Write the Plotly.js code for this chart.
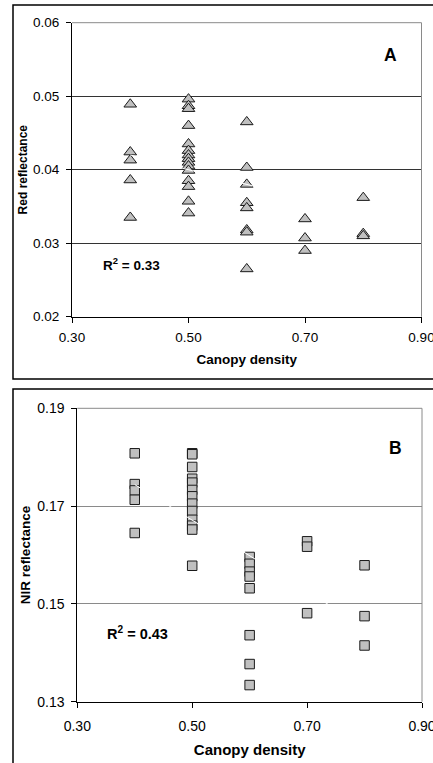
<!DOCTYPE html>
<html>
<head>
<meta charset="utf-8">
<script src="https://cdn.plot.ly/plotly-3.0.1.min.js"></script>
<style>html,body{margin:0;padding:0;background:#fff;}#chart{width:433px;height:763px;}</style>
</head>
<body>
<div id="chart"></div>
<script>
// ---- data ----
const redX = [0.4,0.4,0.4,0.4,0.4,
  0.5,0.5,0.5,0.5,0.5,0.5,0.5,0.5,0.5,0.5,0.5,0.5,0.5,0.5,0.5,
  0.6,0.6,0.6,0.6,0.6,0.6,0.6,0.6,
  0.7,0.7,0.7,
  0.8,0.8,0.8];
const redY = [0.0489,0.0424,0.0413,0.0386,0.0335,
  0.0496,0.0487,0.0483,0.0460,0.0435,0.0426,0.0420,0.0415,0.0410,0.0405,0.0399,0.0385,0.0377,0.0357,0.0341,
  0.0465,0.0403,0.0380,0.0355,0.0348,0.0318,0.0315,0.0265,
  0.0333,0.0307,0.0290,
  0.0362,0.0313,0.0310];
const nirX = [0.4,0.4,0.4,0.4,0.4,
  0.5,0.5,0.5,0.5,0.5,0.5,0.5,0.5,0.5,0.5,0.5,0.5,0.5,
  0.6,0.6,0.6,0.6,0.6,0.6,0.6,0.6,
  0.7,0.7,0.7,
  0.8,0.8,0.8];
const nirY = [0.1808,0.1745,0.1732,0.1713,0.1645,
  0.1808,0.1806,0.1780,0.1756,0.1748,0.1733,0.1720,0.1705,0.1690,0.1672,0.1660,0.1652,0.1578,
  0.1596,0.1582,0.1566,0.1556,0.1532,0.1436,0.1377,0.1334,
  0.1628,0.1617,0.1481,
  0.1579,0.1475,0.1415];
const trendX = [0.4, 0.8];
const trendRed = [0.0420, 0.0340];
const trendNIR = [0.1744, 0.1453];
const xTicks = [0.30, 0.50, 0.70, 0.90];
const xTickText = ['0.30','0.50','0.70','0.90'];
const redTicks = [0.02, 0.03, 0.04, 0.05, 0.06];
const redTickText = ['0.02','0.03','0.04','0.05','0.06'];
const nirTicks = [0.13, 0.15, 0.17, 0.19];
const nirTickText = ['0.13','0.15','0.17','0.19'];
const panelLabels = ['A', 'B'];
const rSquared = ['0.33', '0.43'];
const xTitle = 'Canopy density';
const yTitles = ['Red reflectance', 'NIR reflectance'];

// ---- layout helpers ----
const W = 433, H = 763;
const px = v => v / W;
const py = v => 1 - v / H;
const FONT = 'Liberation Sans, Arial, sans-serif';

const markerTri = {symbol:'triangle-up', size:11, color:'#c0c0c0', line:{color:'#1a1a1a', width:1}};
const markerSq = {symbol:'square', size:9.5, color:'#c0c0c0', line:{color:'#1a1a1a', width:1}};

const traces = [
  {x: redX, y: redY, type:'scatter', mode:'markers', marker: markerTri, xaxis:'x', yaxis:'y', cliponaxis:false},
  {x: trendX, y: trendRed, type:'scatter', mode:'lines', line:{color:'#ffffff', width:1}, xaxis:'x', yaxis:'y'},
  {x: nirX, y: nirY, type:'scatter', mode:'markers', marker: markerSq, xaxis:'x2', yaxis:'y2', cliponaxis:false},
  {x: trendX, y: trendNIR, type:'scatter', mode:'lines', line:{color:'#ffffff', width:1}, xaxis:'x2', yaxis:'y2'}
];

function xAxis(domain, anchor, fs, tfs, lblStandoff, standoff) {
  return {
    domain: domain, anchor: anchor, range:[0.3, 0.9],
    tickmode:'array', tickvals: xTicks, ticktext: xTickText,
    ticks:'outside', ticklen:5, tickwidth:1, tickcolor:'#000',
    showline:true, linecolor:'#000', linewidth:1,
    showgrid:false, zeroline:false, fixedrange:true,
    tickfont:{family:FONT, size:fs, color:'#000'},
    ticklabelstandoff: lblStandoff,
    ticklabeloverflow: 'allow',
    title:{text:xTitle, font:{family:FONT, size:tfs, color:'#000', weight:'bold'}, standoff:standoff}
  };
}
function yAxis(domain, anchor, range, tv, tt, grid, fs, title, tfs, standoff) {
  return {
    domain: domain, anchor: anchor, range: range,
    tickmode:'array', tickvals: tv, ticktext: tt,
    ticks:'outside', ticklen:5, tickwidth:1, tickcolor:'#000',
    showline:true, linecolor:'#000', linewidth:1,
    showgrid:true, gridcolor: grid, gridwidth:1, zeroline:false, fixedrange:true,
    tickfont:{family:FONT, size:fs, color:'#000'},
    ticklabelstandoff: 4,
    ticklabeloverflow: 'allow',
    title:{text:title, font:{family:FONT, size:tfs, color:'#000', weight:'bold'}, standoff:standoff}
  };
}

const layout = {
  width: W, height: H,
  margin:{l:0, r:0, t:0, b:0, pad:0},
  paper_bgcolor:'#fff', plot_bgcolor:'#fff',
  showlegend:false,
  font:{family:FONT, color:'#000'},
  xaxis: xAxis([px(72), px(421.5)], 'y', 13.5, 13.5, 3, 10),
  yaxis: yAxis([py(316.7), py(22.7)], 'x', [0.02, 0.06], redTicks, redTickText, '#333333', 13.5, yTitles[0], 12, 2),
  xaxis2: xAxis([px(77.3), px(422)], 'y2', 14, 15, 6, 11),
  yaxis2: yAxis([py(701.7), py(408.3)], 'x2', [0.13, 0.19], nirTicks, nirTickText, '#8a8a8a', 14, yTitles[1], 13.5, 3),
  shapes: [
    // outer frames
    {type:'rect', xref:'paper', yref:'paper', x0:px(13), x1:1.05, y0:py(379), y1:py(5), line:{color:'#000', width:1.5}, layer:'above'},
    {type:'rect', xref:'paper', yref:'paper', x0:px(13), x1:1.05, y0:-0.05, y1:py(389), line:{color:'#000', width:1.5}, layer:'above'},
    // gray top / right plot borders
    {type:'line', xref:'x domain', yref:'y domain', x0:0, x1:1, y0:1, y1:1, line:{color:'#8a8a8a', width:1}, layer:'above'},
    {type:'line', xref:'x domain', yref:'y domain', x0:1, x1:1, y0:0, y1:1, line:{color:'#8a8a8a', width:1}, layer:'above'},
    {type:'line', xref:'x2 domain', yref:'y2 domain', x0:0, x1:1, y0:1, y1:1, line:{color:'#8a8a8a', width:1}, layer:'above'},
    {type:'line', xref:'x2 domain', yref:'y2 domain', x0:1, x1:1, y0:0, y1:1, line:{color:'#8a8a8a', width:1}, layer:'above'}
  ],
  annotations: [
    {xref:'paper', yref:'paper', x:px(390.7), y:py(54.7), text:panelLabels[0], showarrow:false, xanchor:'center', yanchor:'middle', font:{family:FONT, size:17.5, weight:'bold', color:'#000'}},
    {xref:'paper', yref:'paper', x:px(395.3), y:py(448), text:panelLabels[1], showarrow:false, xanchor:'center', yanchor:'middle', font:{family:FONT, size:17.5, weight:'bold', color:'#000'}},
    {xref:'paper', yref:'paper', x:px(131.3), y:py(264.3), text:'R<sup>2</sup> = ' + rSquared[0], showarrow:false, xanchor:'center', yanchor:'middle', font:{family:FONT, size:13.5, weight:'bold', color:'#000'}},
    {xref:'paper', yref:'paper', x:px(137.5), y:py(633.3), text:'R<sup>2</sup> = ' + rSquared[1], showarrow:false, xanchor:'center', yanchor:'middle', font:{family:FONT, size:14.5, weight:'bold', color:'#000'}}
  ]
};

Plotly.newPlot('chart', traces, layout, {staticPlot:true, displayModeBar:false});
</script>
</body>
</html>
